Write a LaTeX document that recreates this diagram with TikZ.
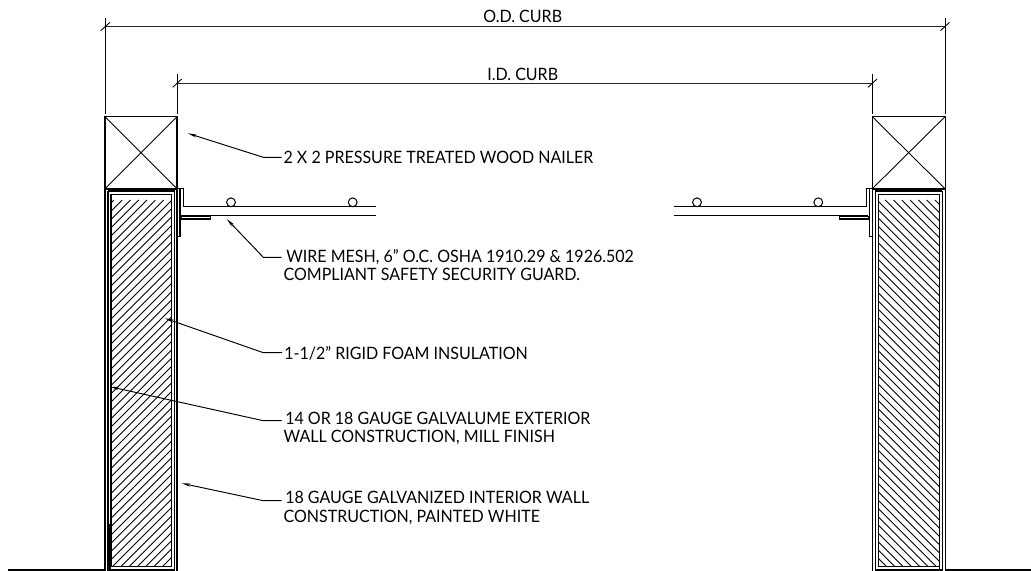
\documentclass[tikz,border=0pt]{standalone}
\usepackage{fontspec}
\setmainfont{Lato}[FakeStretch=0.94]
\usetikzlibrary{arrows.meta}
\tikzset{
  wall/.style={line width=0.58pt,black},
  heavy/.style={line width=1.1pt,black},
  stub/.style={line width=0.8pt,black},
  thinline/.style={line width=0.5pt,black},
  dimline/.style={line width=0.65pt,black!85},
  hatchline/.style={line width=0.5pt,black},
  leader/.style={line width=0.55pt,black,-{Stealth[length=5pt,width=1.8pt]}},
  calltext/.style={inner xsep=1pt,inner ysep=0pt,anchor=base west,text depth=0pt,font=\fontsize{9.7}{10}\selectfont,text=black},
  dimtext/.style={inner sep=0pt,anchor=base,text depth=0pt,font=\fontsize{9.7}{10}\selectfont,text=black}
}
\begin{document}
\begin{tikzpicture}[x=0.02cm,y=-0.02cm]
\useasboundingbox (0,0) rectangle (1031,571);

% dimensions
\coordinate (odleft) at (105,26.5);
\coordinate (odright) at (945,26.5);
\coordinate (idleft) at (177,83.5);
\coordinate (idright) at (872.3,83.5);
\draw[dimline] (odleft) -- (odright);
\draw[dimline] (idleft) -- (idright);
\node[dimtext] (odlabel) at (522.7,23) {O.D. CURB};
\node[dimtext] (idlabel) at (522.7,80.3) {I.D. CURB};
\draw[thinline] (105,18) -- (105,114);
\draw[thinline] (945,18) -- (945,114);
\draw[thinline] (177,74) -- (177,114);
\draw[thinline] (872.3,74) -- (872.3,114);
\draw[thinline] (100.7,30.7) -- (110,22.3);
\draw[thinline] (940.5,30.7) -- (949.5,22.3);
\draw[thinline] (172.7,87.3) -- (181.7,79);
\draw[thinline] (868,87.3) -- (877,79);

% left nailer
\draw[wall] (105,116.7) rectangle (177,188.7);
\draw[thinline] (105,116.7) -- (177,188.7);
\draw[thinline] (177,116.7) -- (105,188.7);

% left wall
\draw[heavy] (105,188.7) -- (177,188.7);
\draw[wall] (105,188.7) -- (105,571);
\draw[wall] (177,188.7) -- (177,571);
\draw[wall] (108,191) -- (174.5,191);
\draw[wall] (108,191) -- (108,571);
\draw[wall] (174.5,191) -- (174.5,571);
\draw[wall] (111,194.3) rectangle (171.5,566.7);
\draw[heavy] (110.5,570) -- (175,570);
\draw[stub] (109.8,524) -- (109.8,571);
\begin{scope}
\clip (111,194.3) rectangle (171.5,566.7);
\foreach \k in {0,...,53} {
  \draw[hatchline] (\k*8.3+105.6,200) -- (\k*8.3-294.4,600);
}
\end{scope}

% left flashing
\draw[wall] (177,188.7) -- (183.3,188.7) -- (183.3,206.7) -- (375.7,206.7);
\draw[wall] (180,189) -- (180,236.7) -- (176.7,236.7);
\draw[wall] (181.3,216) -- (210.7,216) -- (210.7,219) -- (181.3,219) -- (181.3,216);
\draw[wall] (183.3,215.7) -- (375.7,215.7);
\draw[wall,fill=white] (231,202.3) circle (4.4);
\draw[wall,fill=white] (352.7,202.3) circle (4.4);

% right nailer
\draw[wall] (872.3,116.7) rectangle (945,188.7);
\draw[thinline] (872.3,116.7) -- (945,188.7);
\draw[thinline] (945,116.7) -- (872.3,188.7);

% right wall
\draw[heavy] (872.3,188.7) -- (945,188.7);
\draw[wall] (872.3,188.7) -- (872.3,571);
\draw[wall] (945,188.7) -- (945,571);
\draw[wall] (875,191) -- (942,191);
\draw[wall] (875,191) -- (875,571);
\draw[wall] (942,191) -- (942,571);
\draw[wall] (878.3,194.3) rectangle (939,566.7);
\draw[heavy] (875.5,570) -- (942,570);
\draw[stub] (939.5,524) -- (939.5,571);
\begin{scope}
\clip (878.3,194.3) rectangle (939,566.7);
\foreach \k in {0,...,53} {
  \draw[hatchline] (\k*8.3+511.7,200) -- (\k*8.3+911.7,600);
}
\end{scope}

% right flashing
\draw[wall] (872.3,188.7) -- (866.7,188.7) -- (866.7,206.7) -- (674,206.7);
\draw[wall] (869.3,189) -- (869.3,236.7) -- (872.3,236.7);
\draw[wall] (868,216) -- (839.3,216) -- (839.3,219) -- (868,219) -- (868,216);
\draw[wall] (866.7,215.7) -- (674,215.7);
\draw[wall,fill=white] (697,202.3) circle (4.4);
\draw[wall,fill=white] (818.3,202.3) circle (4.4);

% ground
\draw[heavy] (8,570) -- (104.5,570);
\draw[heavy] (945,570) -- (1031,570);

% callouts
\node[calltext] (nailerlabel) at (281.5,163) {2 X 2 PRESSURE TREATED WOOD NAILER};
\node[calltext] (meshlabel) at (284.2,262) {WIRE MESH, 6” O.C. OSHA 1910.29 \& 1926.502};
\node[calltext] (meshlabelb) at (281.5,280) {COMPLIANT SAFETY SECURITY GUARD.};
\node[calltext] (foamlabel) at (282.2,359) {1-1/2” RIGID FOAM INSULATION};
\node[calltext] (extlabel) at (283.2,424.3) {14 OR 18 GAUGE GALVALUME EXTERIOR};
\node[calltext] (extlabelb) at (281.5,442.8) {WALL CONSTRUCTION, MILL FINISH};
\node[calltext] (intlabel) at (283.2,503.8) {18 GAUGE GALVANIZED INTERIOR WALL};
\node[calltext] (intlabelb) at (281.5,522) {CONSTRUCTION, PAINTED WHITE};

\coordinate (nailertip) at (187.7,133.3);
\coordinate (nailerelbow) at (263.3,157.3);
\coordinate (meshtip) at (226.7,219);
\coordinate (meshelbow) at (263.3,257.3);
\coordinate (foamtip) at (165,318.3);
\coordinate (foamelbow) at (263.3,352.7);
\coordinate (exttip) at (110,386.7);
\coordinate (extelbow) at (263.3,420.7);
\coordinate (inttip) at (181.7,483.3);
\coordinate (intelbow) at (263.3,500.7);
\draw[leader] (nailerelbow -| nailerlabel.west) -- (nailerelbow) -- (nailertip);
\draw[leader] (meshelbow -| meshlabelb.west) -- (meshelbow) -- (meshtip);
\draw[leader] (foamelbow -| foamlabel.west) -- (foamelbow) -- (foamtip);
\draw[leader] (extelbow -| extlabelb.west) -- (extelbow) -- (exttip);
\draw[leader] (intelbow -| intlabelb.west) -- (intelbow) -- (inttip);
\end{tikzpicture}
\end{document}
